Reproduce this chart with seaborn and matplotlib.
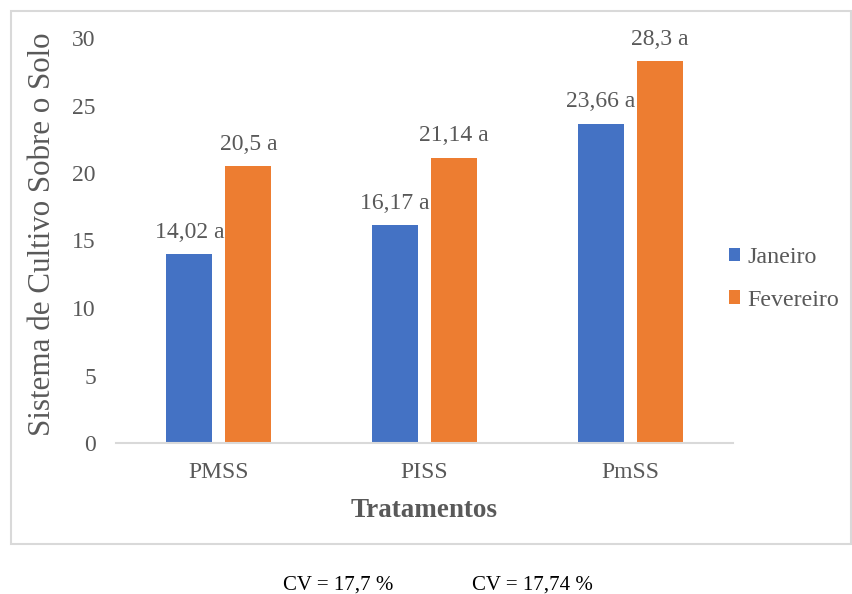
import matplotlib
matplotlib.use("Agg")
import matplotlib.pyplot as plt
from matplotlib.patches import Rectangle
import seaborn as sns
import pandas as pd

# Data
tratamentos = ["PMSS", "PISS", "PmSS"]
meses = ["Janeiro", "Fevereiro"]
janeiro = [14.02, 16.17, 23.66]
fevereiro = [20.5, 21.14, 28.3]
letras_jan = ["a", "a", "a"]
letras_fev = ["a", "a", "a"]
cv_textos = ["CV = 17,7 %", "CV = 17,74 %"]

cores = ["#4472C4", "#ED7D31"]
cinza_texto = "#595959"
cinza_linha = "#D9D9D9"

df = pd.DataFrame({
    "Tratamento": tratamentos * 2,
    "Mes": [meses[0]] * 3 + [meses[1]] * 3,
    "Valor": janeiro + fevereiro,
})

sns.set_theme(style="white")
plt.rcParams["font.family"] = ["Liberation Serif", "DejaVu Serif"]

W, H = 852, 594
fig = plt.figure(figsize=(W / 100, H / 100), dpi=100)
ax = fig.add_axes([116 / W, 1 - 443 / H, 617 / W, 405 / H])

sns.barplot(data=df, x="Tratamento", y="Valor", hue="Mes", order=tratamentos,
            hue_order=meses, palette=cores, width=0.573, gap=0.22,
            saturation=1, edgecolor="none", ax=ax)

ax.set_ylim(0, 30)
ax.set_yticks(range(0, 31, 5))
ax.set_xlim(-0.5, 2.5)

for s in ["top", "right", "left"]:
    ax.spines[s].set_visible(False)
ax.spines["bottom"].set_color(cinza_linha)
ax.spines["bottom"].set_linewidth(1.5)

ax.tick_params(axis="both", length=0, labelsize=17, colors=cinza_texto)
ax.tick_params(axis="y", pad=14.5)
ax.tick_params(axis="x", pad=14)

ax.set_ylabel("Sistema de Cultivo Sobre o Solo", fontsize=22.3, color=cinza_texto)
ax.yaxis.set_label_coords(-0.096, 0.516)
ax.set_xlabel("Tratamentos", fontsize=19.5, fontweight="bold", color=cinza_texto)
ax.xaxis.set_label_coords(0.5, -0.135)

# Value labels with mean-comparison letters
def fmt(v):
    return (f"{v:.2f}".rstrip("0").rstrip(".")).replace(".", ",")

for cont, vals, letras in zip(ax.containers, [janeiro, fevereiro], [letras_jan, letras_fev]):
    ax.bar_label(cont, labels=[f"{fmt(v)} {l}" for v, l in zip(vals, letras)],
                 padding=8, fontsize=17, color=cinza_texto)

leg = ax.legend(loc="center left", bbox_to_anchor=(729 / W, 1 - 279 / H),
                bbox_transform=fig.transFigure, frameon=False, fontsize=17.3,
                handlelength=0.47, handleheight=0.47, handletextpad=0.3,
                labelspacing=0.88, borderaxespad=0, borderpad=0)
for t in leg.get_texts():
    t.set_color(cinza_texto)

# Chart frame
fig.patches.append(Rectangle((11 / W, 1 - 544 / H), 840 / W, 533 / H,
                             transform=fig.transFigure, fill=False,
                             edgecolor=cinza_linha, linewidth=1.5))

fig.text(338 / W, 1 - 585 / H, cv_textos[0], ha="center", va="center",
         fontsize=15, color="black")
fig.text(532 / W, 1 - 585 / H, cv_textos[1], ha="center", va="center",
         fontsize=15, color="black")

fig.savefig("out.png", dpi=100, facecolor="white")
